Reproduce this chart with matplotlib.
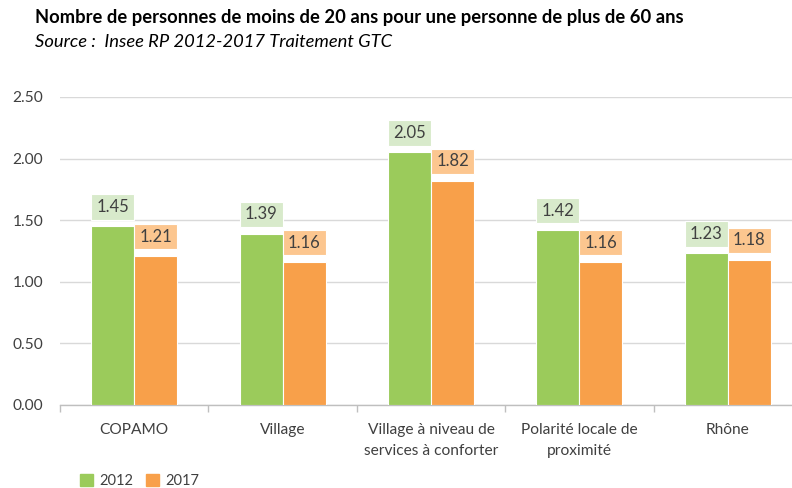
import numpy as np
import matplotlib.pyplot as plt
from matplotlib.patches import Patch

# data
CATEGORIES = [
    "COPAMO",
    "Village",
    "Village à niveau de\nservices à conforter",
    "Polarité locale de\nproximité",
    "Rhône",
]
VALUES_2012 = [1.45, 1.39, 2.05, 1.42, 1.23]
VALUES_2017 = [1.21, 1.16, 1.82, 1.16, 1.18]
SERIES_NAMES = ["2012", "2017"]

TITLE = "Nombre de personnes de moins de 20 ans pour une personne de plus de 60 ans"
SUBTITLE = "Source :  Insee RP 2012-2017 Traitement GTC"

# style
GREEN = "#9BCB5B"
ORANGE = "#F8A04A"
GREEN_LIGHT = "#D8EACB"
ORANGE_LIGHT = "#FCC68F"
TEXT_COLOR = "#404040"
GRID_COLOR = "#D9D9D9"
AXIS_COLOR = "#BFBFBF"
BAR_W = 0.29
LABEL_GAP = 0.055    # white gap between bar and label box (data units)
LABEL_H = 0.205      # label box height (data units)

plt.rcParams['font.family'] = ['Lato', 'DejaVu Sans']

fig = plt.figure(figsize=(7.92, 4.88), dpi=100)
ax = fig.add_axes([60 / 792, 1 - 405 / 488, 742 / 792, 308 / 488])

x = np.arange(len(CATEGORIES))
for offs, vals, col, light in [(-BAR_W / 2, VALUES_2012, GREEN, GREEN_LIGHT),
                               (BAR_W / 2, VALUES_2017, ORANGE, ORANGE_LIGHT)]:
    ax.bar(x + offs, vals, width=BAR_W, color=col, edgecolor="white", linewidth=0.8, zorder=3)
    # data label boxes
    bottoms = np.array(vals) + LABEL_GAP
    ax.bar(x + offs, LABEL_H, bottom=bottoms, width=BAR_W, color=light,
           edgecolor="white", linewidth=0.8, zorder=3)
    for xi, v, b in zip(x + offs, vals, bottoms):
        ax.text(xi, b + LABEL_H / 2, f"{v:.2f}", ha="center", va="center",
                fontsize=12, color=TEXT_COLOR, zorder=4)

ax.set_xlim(-0.5, len(CATEGORIES) - 0.5)
ax.set_ylim(0, 2.5)
ax.set_yticks(np.arange(0, 2.51, 0.5))
ax.set_yticklabels([f"{t:.2f}" for t in np.arange(0, 2.51, 0.5)])
ax.yaxis.grid(True, color=GRID_COLOR, linewidth=1, zorder=0)
ax.set_axisbelow(True)

ax.set_xticks(x)
ax.set_xticklabels(CATEGORIES, linespacing=1.6)
ax.set_xticks(np.arange(-0.5, len(CATEGORIES), 1), minor=True)
ax.tick_params(axis="x", which="major", length=0, pad=13, labelsize=11.2, labelcolor=TEXT_COLOR)
ax.tick_params(axis="x", which="minor", length=5, color=AXIS_COLOR, width=1)
ax.tick_params(axis="y", length=0, pad=12, labelsize=11.2, labelcolor=TEXT_COLOR)

for s in ["top", "right", "left"]:
    ax.spines[s].set_visible(False)
ax.spines["bottom"].set_color(AXIS_COLOR)
ax.spines["bottom"].set_linewidth(1)

fig.text(35 / 792, 1 - 18 / 488, TITLE, fontsize=13.2, fontweight="bold",
         color="#000000", va="center", ha="left")
fig.text(35 / 792, 1 - 42 / 488, SUBTITLE, fontsize=13.2, style="italic",
         color="#000000", va="center", ha="left")

handles = [Patch(color=GREEN, label=SERIES_NAMES[0]),
           Patch(color=ORANGE, label=SERIES_NAMES[1])]
fig.legend(handles=handles, loc="center left", bbox_to_anchor=(67 / 792, 1 - 481 / 488),
           ncol=2, frameon=False, fontsize=10.5, handlelength=0.9, handleheight=0.9,
           handletextpad=0.4, columnspacing=0.9, labelcolor=TEXT_COLOR)

fig.savefig("out.png", dpi=100)
